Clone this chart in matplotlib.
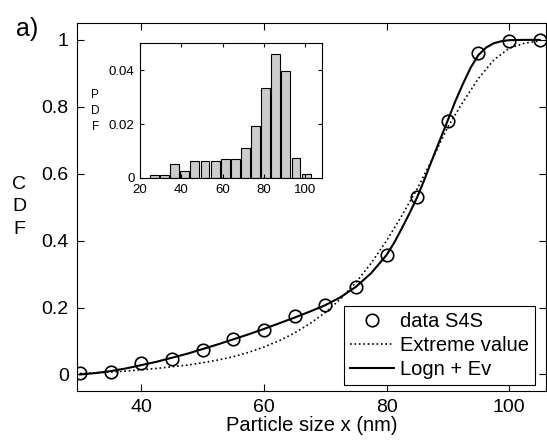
#!/usr/bin/env python
# -*- coding: utf-8 -*-

"""CDF of particle size with PDF histogram inset."""

import matplotlib
matplotlib.use("Agg")
import matplotlib.pyplot as plt

# measured data (circles)
data_x = [30, 35, 40, 45, 50, 55, 60, 65, 70, 75, 80, 85, 90, 95, 100, 105]
data_cdf = [0.003, 0.007, 0.033, 0.045, 0.073, 0.107, 0.134, 0.174, 0.207,
            0.262, 0.358, 0.529, 0.758, 0.962, 0.998, 1.0]

# extreme value fit
ev_x = [30, 32.5, 35, 37.5, 40, 42.5, 45, 47.5, 50, 52.5, 55, 57.5, 60,
        62.5, 65, 67.5, 70, 72.5, 75, 77.5, 80, 82.5, 85, 87.5, 90, 92.5,
        95, 97.5, 100, 102.5, 105]
ev_cdf = [0.003, 0.005, 0.007, 0.010, 0.014, 0.018, 0.023, 0.028, 0.035,
          0.043, 0.053, 0.066, 0.082, 0.101, 0.124, 0.152, 0.185, 0.226,
          0.275, 0.333, 0.400, 0.475, 0.555, 0.645, 0.740, 0.815, 0.885,
          0.940, 0.975, 0.990, 0.997]

# lognormal + extreme value fit
mix_x = [30, 32.5, 35, 37.5, 40, 42.5, 45, 47.5, 50, 52.5, 55, 57.5, 60,
         62.5, 65, 67.5, 70, 72.5, 75, 77.5, 80, 81.25, 82.5, 83.75, 85,
         86.25, 87.5, 88.75, 90, 91.25, 92.5, 93.75, 95, 96.25, 97.5, 98.75,
         100, 102.5, 105]
mix_cdf = [0.0, 0.004, 0.010, 0.018, 0.028, 0.038, 0.050, 0.062, 0.076,
           0.090, 0.105, 0.120, 0.136, 0.153, 0.170, 0.188, 0.207, 0.231,
           0.262, 0.303, 0.357, 0.394, 0.437, 0.482, 0.530, 0.586, 0.645,
           0.703, 0.760, 0.818, 0.870, 0.918, 0.955, 0.977, 0.990, 0.996,
           0.999, 1.0, 1.0]

# histogram (inset)
bin_centers = [27.0, 31.9, 36.8, 41.7, 46.6, 51.5, 56.4, 61.3, 66.2, 71.1,
               76.0, 80.9, 85.8, 90.7, 95.6, 100.5]
pdf_values = [0.0011, 0.0011, 0.0051, 0.0027, 0.0062, 0.0062, 0.0062, 0.0071,
              0.0071, 0.0110, 0.0192, 0.0335, 0.0458, 0.0397, 0.0075, 0.0015]


def main():
    plt.rcParams["font.family"] = ["Liberation Sans", "DejaVu Sans"]

    fig = plt.figure(figsize=(5.47, 4.45), dpi=100)
    ax = fig.add_axes([0.141, 0.121, 0.857, 0.827])

    ax.plot(data_x, data_cdf, "o", mfc="none", mec="black", ms=9, mew=1.2,
            label="data S4S")
    ax.plot(ev_x, ev_cdf, ":", color="black", lw=1.2, label="Extreme value")
    ax.plot(mix_x, mix_cdf, "-", color="black", lw=1.5, label="Logn + Ev")

    ax.set_xlim(29.5, 106)
    ax.set_ylim(-0.05, 1.05)
    ax.set_xticks([40, 60, 80, 100])
    ax.set_yticks([0, 0.2, 0.4, 0.6, 0.8, 1])
    ax.set_yticklabels(["0", "0.2", "0.4", "0.6", "0.8", "1"])
    ax.tick_params(direction="in", top=True, right=True, labelsize=14,
                   length=5, pad=6)
    ax.set_xlabel("Particle size x (nm)", fontsize=14.5, labelpad=0)
    fig.text(0.035, 0.535, "C\nD\nF", fontsize=14, ha="center", va="center",
             linespacing=1.45)
    fig.text(0.05, 0.935, "a)", fontsize=18, ha="center", va="center")

    leg = ax.legend(loc="lower right", bbox_to_anchor=(0.977, 0.016),
                    fontsize=14.5, handlelength=2.2, fancybox=False,
                    edgecolor="black", framealpha=1, borderaxespad=0,
                    labelspacing=0.25, handletextpad=0.3, borderpad=0.3)
    leg.get_frame().set_linewidth(0.8)

    inset = fig.add_axes([0.256, 0.6, 0.333, 0.303])
    inset.bar(bin_centers, pdf_values, width=4.3, color="#cccccc",
              edgecolor="black", linewidth=0.8)
    inset.set_xlim(20, 108.3)
    inset.set_ylim(0, 0.05)
    inset.set_xticks([20, 40, 60, 80, 100])
    inset.set_yticks([0, 0.02, 0.04])
    inset.set_yticklabels(["0", "0.02", "0.04"])
    inset.tick_params(direction="in", top=True, right=True, labelsize=9.5,
                      length=3, pad=4)
    fig.text(0.174, 0.75, "P\nD\nF", fontsize=8.5, ha="center", va="center",
             linespacing=1.45)

    fig.savefig("out.png", dpi=100)
    plt.close()


if __name__ == "__main__":
    main()
